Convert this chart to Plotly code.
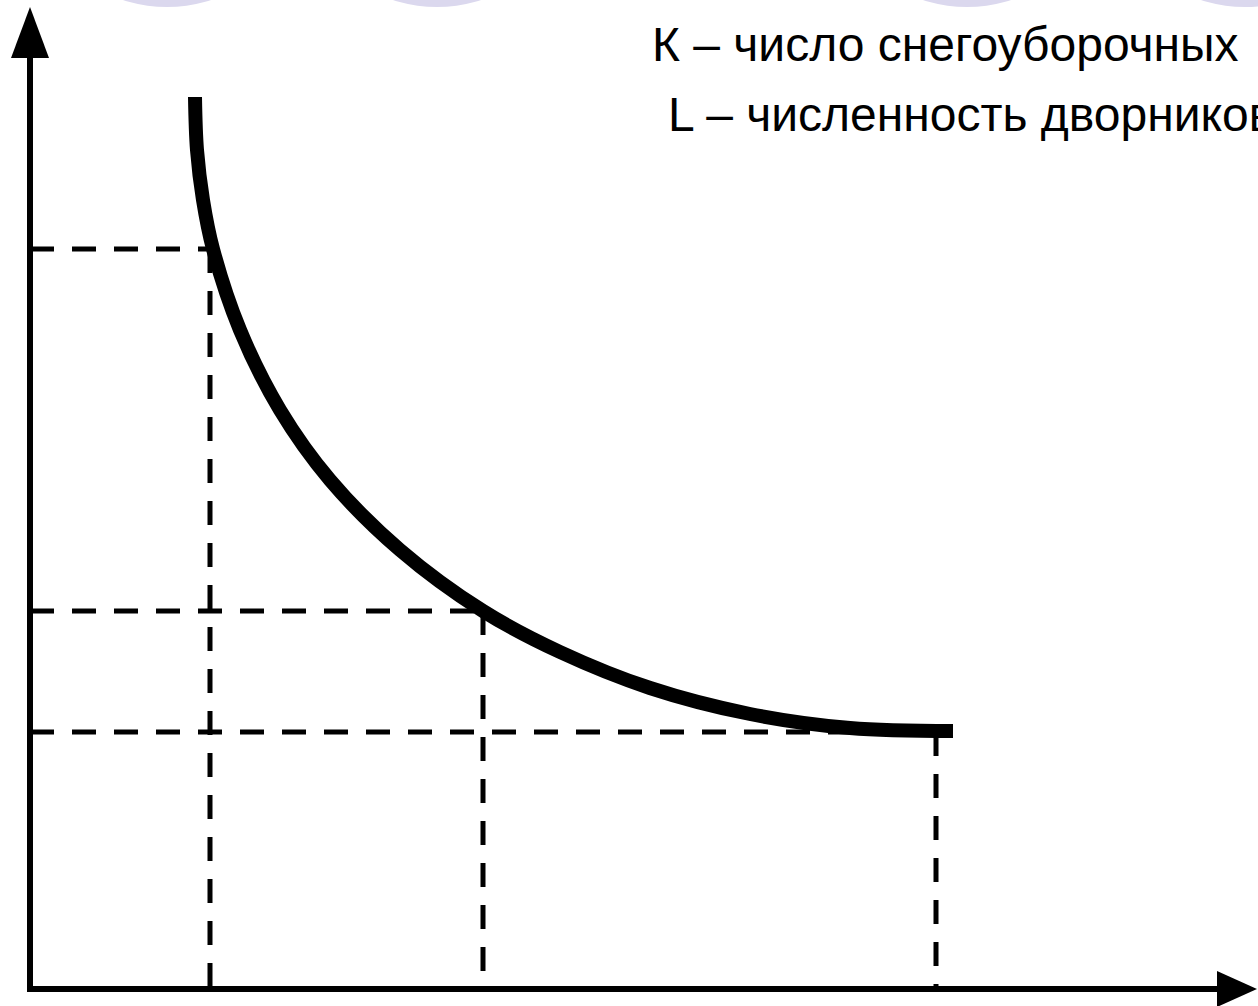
import plotly.graph_objects as go

# ---- data (L = janitors on x, K = snow machines on y), units: 1 unit = 100 px of the reference
curve_L = [1.65, 1.67, 1.73, 1.83, 2.10, 2.50, 3.00, 3.70, 4.53, 5.30, 6.20, 7.20, 8.20, 9.23]
curve_K = [8.92, 8.39, 7.89, 7.40, 6.59, 5.79, 5.09, 4.39, 3.78, 3.37, 3.01, 2.75, 2.61, 2.58]

level_L = [1.80, 4.53, 9.06]
level_K = [7.40, 3.78, 2.57]

label_K = "К – число снегоуборочных"
label_L = "L – численность дворников"

X_RANGE = [-0.30, 12.28]
Y_RANGE = [-0.17, 9.89]
X_AXIS_START, X_AXIS_END = -0.03, 11.87
Y_AXIS_START, Y_AXIS_END = -0.03, 9.31

W, H = 1258, 1006

fig = go.Figure()

# dashed guide lines
for L, K in zip(level_L, level_K):
    fig.add_trace(go.Scatter(x=[0, L], y=[K, K], mode="lines",
                             line=dict(color="black", width=5, dash="24px,18px"),
                             hoverinfo="skip", showlegend=False))
    fig.add_trace(go.Scatter(x=[L, L], y=[K, 0], mode="lines",
                             line=dict(color="black", width=5, dash="24px,18px"),
                             hoverinfo="skip", showlegend=False))

# main curve
fig.add_trace(go.Scatter(x=curve_L, y=curve_K, mode="lines",
                         line=dict(color="black", width=14, shape="spline", smoothing=1.0),
                         hoverinfo="skip", showlegend=False))

shapes = []
# decorative lavender circles at the top edge
for cx in [167, 437, 967, 1245]:
    shapes.append(dict(type="circle", xref="paper", yref="paper",
                       x0=(cx - 100) / W, x1=(cx + 100) / W,
                       y0=1 - 7 / H, y1=1 + 130 / H,
                       fillcolor="#dbd8ee", line=dict(width=0), layer="below"))
# axis lines
shapes.append(dict(type="line", xref="x", yref="y", x0=X_AXIS_START, x1=X_AXIS_END, y0=0, y1=0,
                   line=dict(color="black", width=6)))
shapes.append(dict(type="line", xref="x", yref="y", x0=0, x1=0, y0=Y_AXIS_START, y1=Y_AXIS_END,
                   line=dict(color="black", width=6)))
# arrow heads (pixel-sized, anchored at axis ends)
shapes.append(dict(type="path", xref="x", yref="y", xsizemode="pixel", ysizemode="pixel",
                   xanchor=X_AXIS_END, yanchor=0,
                   path="M0,-18 L40,0 L0,18 Z", fillcolor="black", line=dict(width=0)))
shapes.append(dict(type="path", xref="x", yref="y", xsizemode="pixel", ysizemode="pixel",
                   xanchor=0, yanchor=Y_AXIS_END,
                   path="M-19,0 L19,0 L0,51 Z", fillcolor="black", line=dict(width=0)))

annotations = [
    dict(text=label_K, xref="paper", yref="paper", x=650 / W, y=1 - 45 / H,
         xanchor="left", yanchor="middle", showarrow=False,
         font=dict(family="Liberation Sans, Arial", size=48, color="black")),
    dict(text=label_L, xref="paper", yref="paper", x=666 / W, y=1 - 115 / H,
         xanchor="left", yanchor="middle", showarrow=False,
         font=dict(family="Liberation Sans, Arial", size=48, color="black")),
]

fig.update_layout(
    width=W, height=H,
    margin=dict(l=0, r=0, t=0, b=0),
    paper_bgcolor="white", plot_bgcolor="white",
    xaxis=dict(range=X_RANGE, visible=False, fixedrange=True),
    yaxis=dict(range=Y_RANGE, visible=False, fixedrange=True),
    shapes=shapes, annotations=annotations,
    showlegend=False,
)

fig.write_html("out.html", config={"displayModeBar": False},
               post_script="document.body.style.margin='0';document.body.style.overflow='hidden';")
